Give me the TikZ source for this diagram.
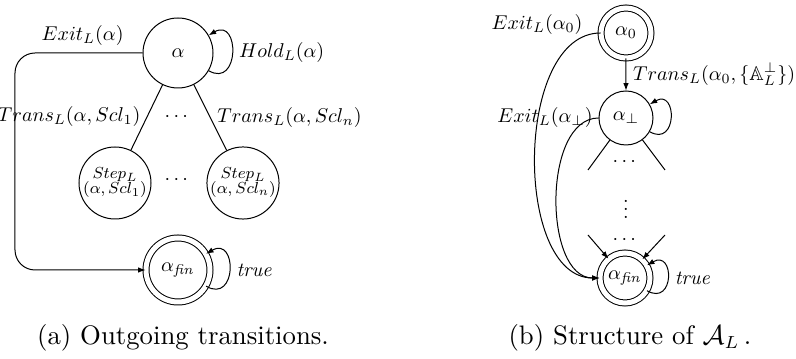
\documentclass[tikz,border=0pt]{standalone}
\usepackage{amsmath,amssymb}
\usepackage{tikz}
\usetikzlibrary{arrows.meta, positioning, calc}

\begin{document}
\begin{tikzpicture}[
    x=0.4pt, y=0.4pt,
    lbl/.style={scale=0.8, transform shape},
    dots/.style={lbl, inner sep=0pt},
    loc/.style={lbl, circle, draw, inner sep=0pt, minimum size=#1},
    loc/.default=27pt,
    finloc/.style={loc=#1, double, double distance=2pt},
    finloc/.default=25pt,
    line/.style={draw},
    trans/.style={draw, -{Latex[length=3pt, width=2.2pt]}},
    steptext/.style={font=\footnotesize, align=center},
    caption/.style={font=\fontsize{10.7}{13}\selectfont}
]
    \useasboundingbox (0,0) rectangle (796,359);

    % (a) States
    \node[loc=35pt] (a) at (178,306) {$\alpha$};
    \node[loc=36pt, steptext] (s1) at (115,176) {$Step_L$\\[-2pt]$(\alpha, Scl_1)$};
    \node[loc=36pt, steptext] (sn) at (243,176) {$Step_L$\\[-2pt]$(\alpha, Scl_n)$};
    \node[finloc=32pt] (fin) at (178,89) {$\alpha_{\mathit{fin}}$};
    \node[dots] (dtop) at (178,242) {$\cdots$};
    \node[dots] (dmid) at (178,179) {$\cdots$};
    \coordinate (ec) at (15,306);

    % (a) Edges
    \draw[trans, rounded corners=8pt] (a) -- node[lbl, above, pos=0.47] {$Exit_L(\alpha)$} (ec) |- (fin);
    \draw[line] (a) -- node[lbl, left, pos=0.48] {$Trans_L(\alpha, Scl_1)$} (s1);
    \draw[line] (a) -- node[lbl, right] {$Trans_L(\alpha, Scl_n)$} (sn);
    \draw[trans] (a.-30) .. controls +(-30:36) and +(30:36) .. node[lbl, right] {$Hold_L(\alpha)$} (a.30);
    \draw[trans] (fin.-30) .. controls +(-30:36) and +(30:36) .. node[lbl, right] {$\mathit{true}$} (fin.30);

    % (b) States
    \node[finloc] (a0) at (626,326) {$\alpha_0$};
    \node[loc] (abot) at (626,241) {$\alpha_\bot$};
    \node[finloc] (fin2) at (625,81) {$\alpha_{\mathit{fin}}$};
    \node[dots] (d1) at (626,197) {$\cdots$};
    \node[dots] (d2) at (626,156) {$\vdots$};
    \node[dots] (d3) at (626,119) {$\cdots$};
    \coordinate (l1) at (588,189);
    \coordinate (r1) at (665,189);
    \coordinate (l2) at (588,124);
    \coordinate (r2) at (665,124);

    % (b) Labels
    \node[lbl] (exa0) at (537,334) {$Exit_L(\alpha_0)$};
    \node[lbl] (exbot) at (545,241) {$Exit_L(\alpha_\bot)$};

    % (b) Edges
    \draw[trans] (a0) -- node[lbl, right] {$Trans_L(\alpha_0, \{\mathbb{A}_L^{\bot}\})$} (abot);
    \draw[line] (abot) -- (l1);
    \draw[line] (abot) -- (r1);
    \draw[trans] (l2) -- (fin2);
    \draw[trans] (r2) -- (fin2);
    \draw[trans] (abot.-30) .. controls +(-30:32) and +(30:32) .. (abot.30);
    \draw[trans] (fin2.-30) .. controls +(-30:32) and +(30:32) .. node[lbl, right] {$\mathit{true}$} (fin2.30);
    \draw[trans] (a0) to[out=180, in=180, looseness=0.9] (fin2);
    \draw[trans] (abot) to[out=180, in=180, looseness=0.9] (fin2);

    % Captions
    \node[caption] (capa) at (183,21) {(a)~Outgoing transitions.};
    \node[caption] (capb) at (630,21) {(b)~Structure of $\mathcal{A}_L$\,.};

\end{tikzpicture}
\end{document}
